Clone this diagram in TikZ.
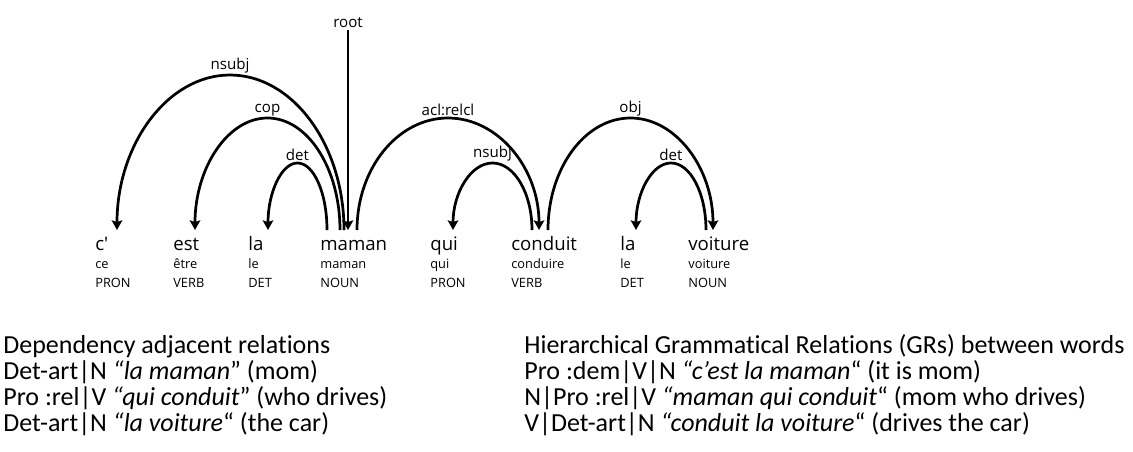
\documentclass[tikz,border=0pt]{standalone}
\usepackage{fontspec}
\setmainfont{Carlito}[Ligatures={TeX,NoCommon}]
\newfontfamily\treefont{Open Sans}
\usetikzlibrary{arrows.meta}

\begin{document}
\begin{tikzpicture}[x=0.02cm, y=-0.02cm,
		dep/.style={line width=1.55pt, -{Stealth[length=5.5pt, width=6pt, inset=1pt]}},
		word/.style={anchor=base west, inner sep=0pt, font=\treefont\fontsize{10.6}{12}\selectfont},
		lemma/.style={anchor=base west, inner sep=0pt, font=\treefont\fontsize{7.3}{9}\selectfont},
		rel/.style={anchor=south, inner sep=1pt, font=\treefont\fontsize{8.6}{10}\selectfont},
		gr/.style={anchor=base west, inner sep=0pt, font=\fontsize{14.8}{18}\selectfont}]
	\useasboundingbox (0,0) rectangle (1133,451);

	% tokens
	\node[word] (w1) at (95,250) {c\textquotesingle};
	\node[word] (w2) at (173,250) {est};
	\node[word] (w3) at (248,250) {la};
	\node[word] (w4) at (320,250) {maman};
	\node[word] (w5) at (430,250) {qui};
	\node[word] (w6) at (511,250) {conduit};
	\node[word] (w7) at (620,250) {la};
	\node[word] (w8) at (688,250) {voiture};
	% lemmas and tags
	\node[lemma] (l1) at (95,268) {ce};
	\node[lemma] (l2) at (173,268) {être};
	\node[lemma] (l3) at (248,268) {le};
	\node[lemma] (l4) at (320,268) {maman};
	\node[lemma] (l5) at (430,268) {qui};
	\node[lemma] (l6) at (511,268) {conduire};
	\node[lemma] (l7) at (620,268) {le};
	\node[lemma] (l8) at (688,268) {voiture};
	\node[lemma] (t1) at (95,287) {PRON};
	\node[lemma] (t2) at (173,287) {VERB};
	\node[lemma] (t3) at (248,287) {DET};
	\node[lemma] (t4) at (320,287) {NOUN};
	\node[lemma] (t5) at (430,287) {PRON};
	\node[lemma] (t6) at (511,287) {VERB};
	\node[lemma] (t7) at (620,287) {DET};
	\node[lemma] (t8) at (688,287) {NOUN};

	% arc ends
	\coordinate (cIn) at (117,230);
	\coordinate (estIn) at (195,230);
	\coordinate (laIn) at (268,230);
	\coordinate (mamanDet) at (327,230);
	\coordinate (mamanCop) at (340,230);
	\coordinate (mamanSubj) at (344,230);
	\coordinate (mamanIn) at (348,230);
	\coordinate (mamanAcl) at (357,230);
	\coordinate (quiIn) at (453,230);
	\coordinate (condSubj) at (532,230);
	\coordinate (condIn) at (539,230);
	\coordinate (condObj) at (548,230);
	\coordinate (la2In) at (636,230);
	\coordinate (voitDet) at (706,230);
	\coordinate (voitIn) at (713,230);

	% relation labels
	\node[rel] (root) at (348,30) {root};
	\node[rel] (nsubj) at (230,75) {nsubj};
	\node[rel] (cop) at (267.5,118) {cop};
	\node[rel] (det) at (297.5,163) {det};
	\node[rel] (acl) at (448,118) {acl:relcl};
	\node[rel] (nsubj2) at (492.5,163) {nsubj};
	\node[rel] (obj) at (630.5,118) {obj};
	\node[rel] (det2) at (671,163) {det};

	% arcs
	\draw[dep] (root.south) -- (mamanIn);
	\draw[dep] (mamanSubj) .. controls +(0,-85.6) and +(62.4,0) .. (nsubj.south) .. controls +(-62.4,0) and +(0,-85.6) .. (cIn);
	\draw[dep] (mamanCop) .. controls +(0,-61.8) and +(40,0) .. (cop.south) .. controls +(-40,0) and +(0,-61.8) .. (estIn);
	\draw[dep] (mamanDet) .. controls +(0,-37) and +(16.3,0) .. (det.south) .. controls +(-16.3,0) and +(0,-37) .. (laIn);
	\draw[dep] (mamanAcl) .. controls +(0,-61.8) and +(-50.2,0) .. (acl.south) .. controls +(50.2,0) and +(0,-61.8) .. (condIn);
	\draw[dep] (condSubj) .. controls +(0,-37) and +(21.8,0) .. (nsubj2.south) .. controls +(-21.8,0) and +(0,-37) .. (quiIn);
	\draw[dep] (condObj) .. controls +(0,-61.8) and +(-45.5,0) .. (obj.south) .. controls +(45.5,0) and +(0,-61.8) .. (voitIn);
	\draw[dep] (voitDet) .. controls +(0,-37) and +(19.3,0) .. (det2.south) .. controls +(-19.3,0) and +(0,-37) .. (la2In);

	% relations listed below
	\node[gr] (adj0) at (3,353) {Dependency adjacent relations};
	\node[gr] (adj1) at (3,379) {Det-art|N \textit{“la maman}” (mom)};
	\node[gr] (adj2) at (3,405) {Pro :rel|V \textit{“qui conduit}” (who drives)};
	\node[gr] (adj3) at (3,431) {Det-art|N \textit{“la voiture}“ (the car)};
	\node[gr] (hier0) at (524,353) {Hierarchical Grammatical Relations (GRs) between words};
	\node[gr] (hier1) at (524,379) {Pro :dem|V|N \textit{“c’est la maman}“ (it is mom)};
	\node[gr] (hier2) at (524,405) {N|Pro :rel|V \textit{“maman qui conduit}“ (mom who drives)};
	\node[gr] (hier3) at (524,431) {V|Det-art|N \textit{“conduit la voiture}“ (drives the car)};
\end{tikzpicture}
\end{document}
